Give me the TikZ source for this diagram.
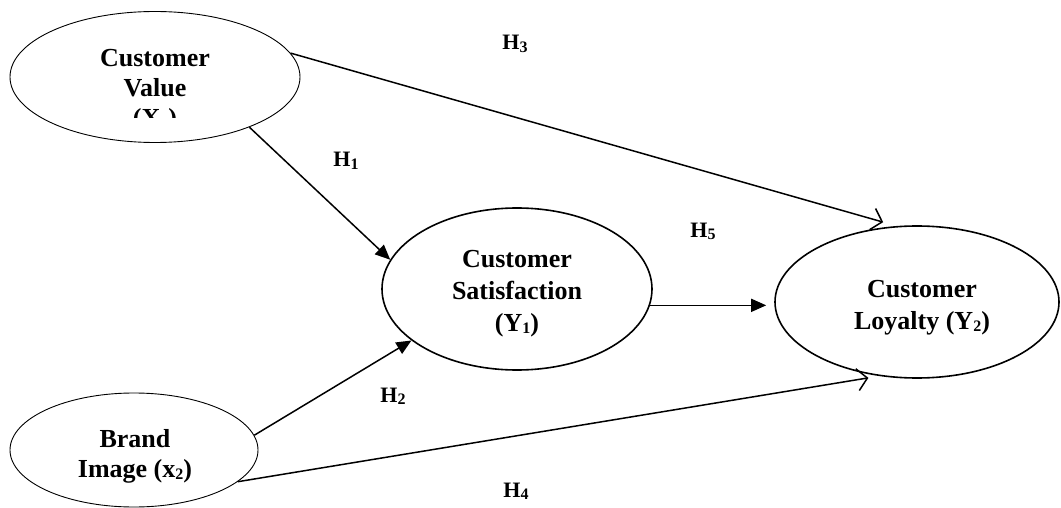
\documentclass[tikz,border=0pt]{standalone}
\usepackage{fontspec}
\setmainfont{Liberation Serif}
\usetikzlibrary{arrows.meta,shapes.geometric}

% small lowered digit used for the indices
\newcommand{\idx}[1]{\raisebox{-2.5pt}{\fontsize{16}{16}\selectfont #1}}

\tikzset{
  construct/.style={ellipse, draw, inner sep=0pt, line width=1.6pt},
  thinconstruct/.style={ellipse, draw, inner sep=0pt, line width=0.9pt},
  txt/.style={anchor=base, inner sep=0pt, font=\fontsize{26}{26}\selectfont\bfseries},
  hyp/.style={anchor=base, inner sep=0pt, font=\fontsize{22}{22}\selectfont\bfseries},
  solidarrow/.style={line width=1.5pt, -{Triangle[length=15pt,width=13pt]}},
  openarrow/.style={line width=1.5pt, -{Straight Barb[length=10pt,width=22pt,line width=1.5pt]}}
}

\begin{document}
\begin{tikzpicture}[x=1pt, y=-1pt]
  \useasboundingbox (0,0) rectangle (1061,508);

  % constructs
  \node[thinconstruct, minimum width=290pt, minimum height=131pt] (cv) at (155,77) {};
  \node[construct, minimum width=270pt, minimum height=162pt] (cs) at (517,289) {};
  \node[construct, minimum width=284pt, minimum height=152pt] (cl) at (917,302) {};
  \node[thinconstruct, minimum width=248pt, minimum height=114pt] (bi) at (134,450) {};

  % construct labels
  \node[txt] (cv1) at (155,67) {Customer};
  \node[txt] (cv2) at (155,97) {Value};
  \begin{scope}
    \clip (0,0) rectangle (1061,118);
    \node[txt] (cv3) at (155,127) {(X\idx{1})};
  \end{scope}

  \node[txt] (cs1) at (517,267) {Customer};
  \node[txt] (cs2) at (517,299) {Satisfaction};
  \node[txt] (cs3) at (517,331) {(Y\idx{1})};

  \node[txt] (cl1) at (922,297) {Customer};
  \node[txt] (cl2) at (922,329) {Loyalty (Y\idx{2})};

  \node[txt] (bi1) at (135,447) {Brand};
  \node[txt] (bi2) at (135,477) {Image (x\idx{2})};

  % hypothesis labels
  \node[hyp] (h1) at (346,167) {H\idx{1}};
  \node[hyp] (h2) at (393,402) {H\idx{2}};
  \node[hyp] (h3) at (515,50) {H\idx{3}};
  \node[hyp] (h4) at (516,497) {H\idx{4}};
  \node[hyp] (h5) at (703,237) {H\idx{5}};

  % paths
  \draw[solidarrow] (cv.-28) -- (cs.167.7);
  \draw[solidarrow] (bi.7) -- (cs.206.4);
  \draw[solidarrow, shorten >=8pt] (cs.-7.8) -- (cs.-7.8 -| cl.west);
  \draw[openarrow, shorten >=14pt] (cv.10) -- (cl.105);
  \draw[openarrow, shorten >=11pt] (bi.-17.6) -- (cl.-117.6);
\end{tikzpicture}
\end{document}
